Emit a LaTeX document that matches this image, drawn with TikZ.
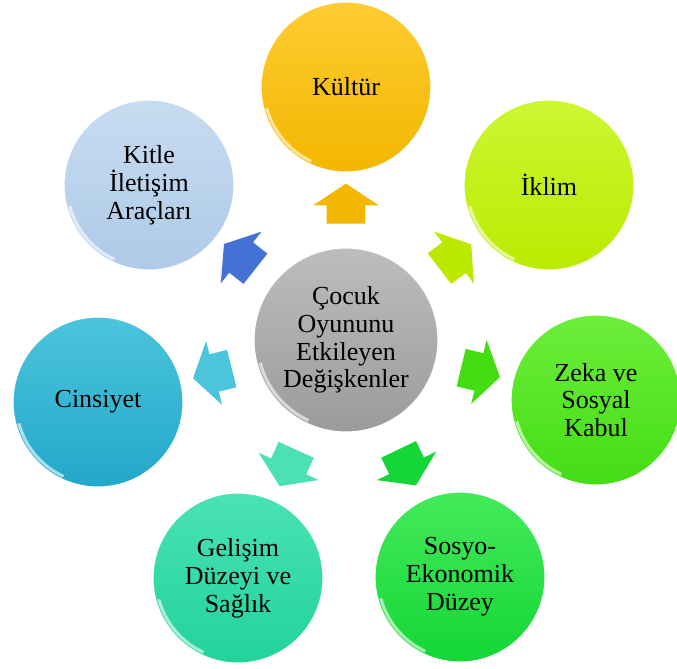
\documentclass[tikz,border=0pt]{standalone}
\usepackage{fontspec}
\setmainfont{Liberation Serif}
\usetikzlibrary{shapes.arrows, positioning}
\definecolor{kulturtop}{HTML}{FFCC33}
\definecolor{kulturbot}{HTML}{F2B700}
\definecolor{iklimtop}{HTML}{CCF733}
\definecolor{iklimbot}{HTML}{BBEA00}
\definecolor{zekatop}{HTML}{6CEE3A}
\definecolor{zekabot}{HTML}{44DD14}
\definecolor{sosyotop}{HTML}{44EA5A}
\definecolor{sosyobot}{HTML}{14D636}
\definecolor{gelisimtop}{HTML}{4AE2B4}
\definecolor{gelisimbot}{HTML}{22D39A}
\definecolor{cinsiyettop}{HTML}{4CC4DC}
\definecolor{cinsiyetbot}{HTML}{22A8CA}
\definecolor{kitletop}{HTML}{C8DCF0}
\definecolor{kitlebot}{HTML}{AECAE8}
\definecolor{kitlearrow}{HTML}{4472D4}
\definecolor{centertop}{HTML}{BDBDBD}
\definecolor{centerbot}{HTML}{9B9B9B}
\tikzset{
gloss/.style = { path picture = { \draw[white, opacity = 0.6, line width = 2.2pt] (path picture bounding box.center) ++(195:#1) arc[start angle = 195, end angle = 245, radius = #1]; } },
factor/.style 2 args = { circle, draw = white, line width = 0.8pt, top color = #1, bottom color = #2, minimum size = 42.5mm, inner sep = 0pt, align = center, text = black, font = \fontsize{18.5}{19.8}\selectfont, gloss = 20.5mm },
push/.style = { single arrow, draw = none, fill = #1, minimum height = 10mm, minimum width = 16mm, single arrow head extend = 3.4mm, single arrow tip angle = 113, inner xsep = 0pt, inner ysep = 4.75mm, sloped, allow upside down },
}

\begin{document}
\begin{tikzpicture}
      \clip (0, 0) rectangle (16.925, -16.7);
      \node[factor = {centertop}{centerbot}, minimum size = 46mm, gloss = 22.2mm] (center) at (8.65, -8.5) {Çocuk\\Oyununu\\Etkileyen\\Değişkenler};
      \node[factor = {kulturtop}{kulturbot}] (kultur) at (8.65, -2.175) {Kültür};
      \node[factor = {iklimtop}{iklimbot}] (iklim) at (13.725, -4.625) {İklim};
      \node[factor = {zekatop}{zekabot}] (zeka) at (14.9, -10.0) {Zeka ve\\Sosyal\\Kabul};
      \node[factor = {sosyotop}{sosyobot}] (sosyo) at (11.5, -14.425) {Sosyo-\\Ekonomik\\Düzey};
      \node[factor = {gelisimtop}{gelisimbot}] (gelisim) at (5.95, -14.45) {Gelişim\\Düzeyi ve\\Sağlık};
      \node[factor = {cinsiyettop}{cinsiyetbot}] (cinsiyet) at (2.45, -10.05) {Cinsiyet};
      \node[factor = {kitletop}{kitlebot}] (kitle) at (3.725, -4.625) {Kitle\\İletişim\\Araçları};
      % arrows half way between the circles
      \path (center) -- node[push = {kulturbot}] (a1) {} (kultur);
      \path (center) -- node[push = {iklimbot}] (a2) {} (iklim);
      \path (center) -- node[push = {zekabot}] (a3) {} (zeka);
      \path (center) -- node[push = {sosyobot}] (a4) {} (sosyo);
      \path (center) -- node[push = {gelisimtop}] (a5) {} (gelisim);
      \path (center) -- node[push = {cinsiyettop}] (a6) {} (cinsiyet);
      \path (center) -- node[push = {kitlearrow}] (a7) {} (kitle);
\end{tikzpicture}
\end{document}
